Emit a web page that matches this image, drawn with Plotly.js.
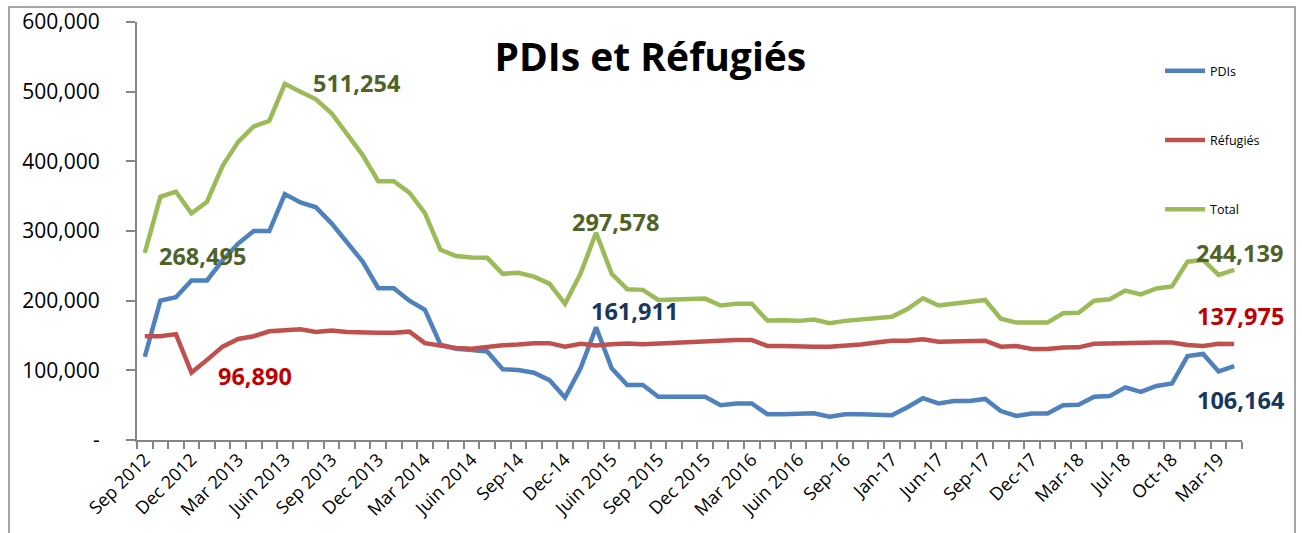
<!DOCTYPE html>
<html>
<head>
<meta charset="utf-8">
<script src="https://cdn.plot.ly/plotly-3.0.1.min.js"></script>
<style>
  html, body { margin: 0; padding: 0; background: #fff; }
  #wrap { position: relative; width: 1302px; height: 533px; overflow: hidden; }
  #chart { width: 1302px; height: 533px; }
  #frame { position: absolute; left: 8px; top: 6px; width: 1284px; height: 560px;
           border: 2px solid #A6A6A6; pointer-events: none; }
</style>
</head>
<body>
<div id="wrap">
  <div id="chart"></div>
  <div id="frame"></div>
</div>
<script>
// ---- data ----
const seriesNames = ["PDIs", "Réfugiés", "Total"];

const pdis = [
  119500, 200000, 205000, 229000, 229000, 258000, 282000, 300000, 300000, 353000,
  341000, 334000, 311000, 283000, 256000, 218000, 218000, 200000, 187000, 137000,
  131000, 129000, 127000, 101500, 100500, 96500, 86000, 61000, 103000, 161911,
  103000, 79000, 79000, 62000, 62000, 62000, 62000, 50000, 52500, 52500,
  37000, 37000, 37000, 38500, 33500, 37000, 37000, 37000, 35500, 47000,
  60000, 52500, 56000, 56000, 59000, 41500, 34500, 38000, 38000, 50000,
  50500, 62000, 63000, 75500, 69000, 77500, 81000, 120500, 123500, 98500,
  106164
];

const refugies = [
  149000, 149000, 152000, 96890, 115000, 134000, 145000, 149000, 156000, 158000,
  159000, 155000, 157000, 155000, 154000, 154000, 154000, 155500, 139000, 136000,
  132000, 131000, 134000, 136000, 137000, 139000, 139000, 134000, 138000, 135500,
  137500, 138500, 137500, 138500, 139500, 140000, 141000, 143500, 143500, 143500,
  135000, 135000, 134000, 134000, 134000, 135000, 137000, 140000, 142500, 142500,
  144500, 141000, 141000, 142500, 142500, 134000, 135000, 130700, 130700, 132600,
  133000, 138000, 138800, 139000, 139800, 140000, 140000, 136400, 135000, 138000,
  137975
];

const total = [
  268495, 349000, 356500, 325500, 342000, 393500, 428000, 450000, 458000, 511254,
  500000, 489000, 469000, 440000, 409000, 371500, 371500, 355000, 325500, 273000,
  264000, 262000, 261500, 238500, 240000, 234500, 224500, 195500, 239000, 297578,
  238500, 216500, 215500, 201000, 202000, 202000, 203000, 193000, 195500, 195500,
  171500, 172000, 171000, 173000, 167600, 171000, 172500, 175000, 177000, 188000,
  203500, 193000, 196000, 198600, 201000, 174000, 168500, 168500, 168500, 182000,
  182500, 200000, 202000, 214500, 209000, 217500, 220500, 256000, 258500, 237000,
  244139
];

// category tick labels (one every third period)
const tickLabels = [
  "Sep 2012", "Dec 2012", "Mar 2013", "Juin 2013", "Sep 2013", "Dec 2013",
  "Mar 2014", "Juin 2014", "Sep-14", "Dec-14", "Juin 2015", "Sep 2015",
  "Dec 2015", "Mar 2016", "Juin 2016", "Sep-16", "Jan-17", "Jun-17",
  "Sep-17", "Dec-17", "Mar-18", "Jul-18", "Oct-18", "Mar-19"
];
const tickPositions = [0, 3, 6, 9, 12, 15, 18, 21, 24, 27, 30, 33, 36, 39, 42, 45, 48, 51, 54, 57, 60, 63, 66, 69];

const yTickValues = [0, 100000, 200000, 300000, 400000, 500000, 600000];
const yTickLabels = ["-", "100,000", "200,000", "300,000", "400,000", "500,000", "600,000"];

// labelled points: [series, index]
const labelledPoints = [
  { s: "total", i: 0 }, { s: "total", i: 9 }, { s: "refugies", i: 3 },
  { s: "total", i: 29 }, { s: "pdis", i: 29 },
  { s: "total", i: 70 }, { s: "refugies", i: 70 }, { s: "pdis", i: 70 }
];

// ---- drawing ----
const seriesData = { pdis: pdis, refugies: refugies, total: total };
const colors = { pdis: "#4F81BD", refugies: "#C0504D", total: "#9BBB59" };
const labelColors = { pdis: "#17375E", refugies: "#C00000", total: "#4F6228" };
const labelShift = [
  [58, -3], [72, 1], [64, -3], [19, 11], [38, 16], [5, 17], [6, 28], [7, -34]
];

const xIdx = pdis.map((_, k) => k);
const FONT = "Open Sans, Lato, sans-serif";

const keys = ["pdis", "refugies", "total"];
const traces = keys.map((k, n) => ({
  type: "scatter",
  mode: "lines",
  name: seriesNames[n],
  legendgroup: "g" + n,
  x: xIdx,
  y: seriesData[k],
  line: { color: colors[k], width: 4.5 },
  hoverinfo: "x+y"
}));

const annotations = labelledPoints.map((p, j) => ({
  x: p.i,
  y: seriesData[p.s][p.i],
  xref: "x", yref: "y",
  text: "<b>" + seriesData[p.s][p.i].toLocaleString("en-US") + "</b>",
  showarrow: false,
  xshift: labelShift[j][0],
  yshift: labelShift[j][1],
  font: { family: FONT, size: 23.5, color: labelColors[p.s] }
}));

const layout = {
  width: 1302, height: 533,
  margin: { l: 137, r: 60, t: 22, b: 93 },
  paper_bgcolor: "#ffffff",
  plot_bgcolor: "#ffffff",
  font: { family: FONT, color: "#000" },
  title: {
    text: "<b>PDIs et Réfugiés</b>",
    font: { family: FONT, size: 39, color: "#000" },
    x: 0.4995, xref: "container", xanchor: "center",
    y: 1 - 57 / 533, yref: "container", yanchor: "middle"
  },
  xaxis: {
    range: [-0.5, 70.5],
    tickmode: "array",
    tickvals: tickPositions,
    ticktext: tickLabels,
    tickangle: -45,
    ticks: "",
    showgrid: false,
    zeroline: false,
    showline: true,
    linecolor: "#868686",
    linewidth: 2,
    tickfont: { family: FONT, size: 18, color: "#000" },
    minor: { tickmode: "linear", tick0: -0.5, dtick: 1, ticks: "outside", ticklen: 7, tickcolor: "#868686", tickwidth: 2, showgrid: false }
  },
  yaxis: {
    range: [0, 600000],
    tickmode: "array",
    tickvals: yTickValues,
    ticktext: yTickLabels,
    ticks: "outside",
    ticklen: 9,
    tickwidth: 2,
    tickcolor: "#868686",
    ticklabelstandoff: 22,
    showgrid: false,
    zeroline: false,
    showline: true,
    linecolor: "#868686",
    linewidth: 2,
    tickfont: { family: FONT, size: 21, color: "#000" }
  },
  showlegend: true,
  legend: {
    x: (1160 - 137) / 1105, xanchor: "left",
    y: (440 - 56) / 418, yanchor: "top",
    font: { family: FONT, size: 12.5, color: "#000" },
    tracegroupgap: 50,
    bgcolor: "rgba(0,0,0,0)",
    itemwidth: 40
  },
  annotations: annotations
};

Plotly.newPlot("chart", traces, layout, { displayModeBar: false, responsive: false });
</script>
</body>
</html>
